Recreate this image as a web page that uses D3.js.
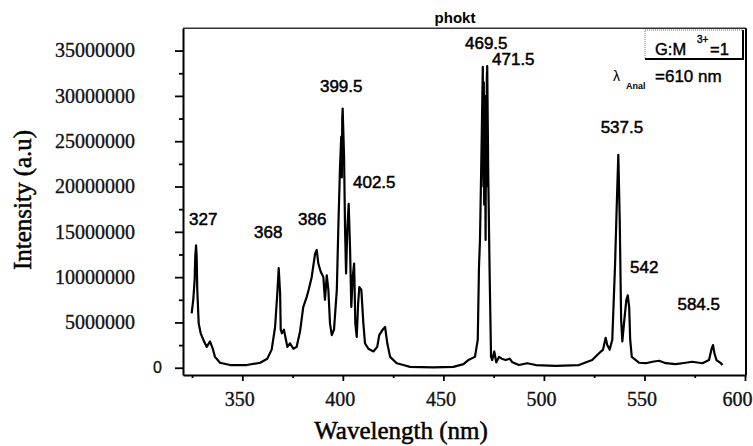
<!DOCTYPE html>
<html>
<head>
<meta charset="utf-8">
<script src="https://cdn.jsdelivr.net/npm/d3@7"></script>
<style>
  html, body { margin: 0; padding: 0; background: #fff; }
  svg { display: block; }
</style>
</head>
<body>
<div id="root"></div>
<script>
const svgWidth = 753;
const svgHeight = 446;

// spectrum (nm, intensity in millions a.u.)
const wavelength = [
  324.8, 325.6, 326.3, 326.6, 327.0, 327.3, 327.6, 328.3, 329.3, 330.6,
  332.3, 333.9, 335.3, 336.4, 338.9, 343.9, 352.2, 358.9, 362.4, 364.6,
  366.3, 367.4, 368.1, 368.8, 369.1, 369.7, 370.7, 371.7, 372.4, 373.7,
  375.4, 377.0, 378.7, 380.3, 382.0, 383.0, 384.5, 386.2, 387.0, 387.8,
  389.0, 390.3, 391.1, 392.0, 392.8, 393.6, 394.5, 395.6, 397.0, 397.8,
  398.6, 399.2, 399.5, 399.7, 399.9, 400.6, 401.1, 401.6, 402.2, 402.9, 403.6, 404.2,
  404.9, 405.6, 406.2, 406.9, 407.6, 408.2, 409.2, 410.2, 411.0, 412.7,
  415.2, 417.1, 418.1, 419.8, 421.0, 422.1, 423.5, 426.8, 430.1, 433.4,
  445.0, 455.0, 460.0, 462.4, 465.7, 467.1, 467.7, 468.2, 469.1, 469.6, 469.9, 470.1,
  470.3, 470.5, 470.7, 471.0, 471.2, 471.4, 471.6, 471.8, 472.3, 473.0, 473.7, 474.3, 475.3, 476.3,
  477.7, 479.0, 481.0, 483.0, 484.3, 487.6, 491.7, 495.9, 505.8, 517.4,
  524.0, 527.4, 529.4, 530.7, 531.5, 532.7, 534.0, 535.4, 536.2, 537.0,
  537.7, 538.4, 539.0, 540.0, 541.0, 541.7, 542.4, 542.9, 543.7, 545.7,
  547.4, 550.7, 554.0, 557.3, 560.6, 565.6, 570.5, 573.8, 578.8, 582.1,
  583.4, 584.1, 584.8, 585.8, 588.0, 588.8
];
const intensity = [
  6.0, 7.5, 9.7, 12.3, 13.5, 12.3, 8.6, 4.9, 3.8, 3.1,
  2.3, 2.9, 2.1, 1.2, 0.55, 0.3, 0.3, 0.55, 1.0, 2.0,
  4.5, 8.2, 11.0, 8.2, 4.2, 3.8, 4.2, 3.1, 2.3, 2.7,
  2.1, 2.3, 4.0, 6.7, 7.8, 8.6, 10.0, 12.6, 13.0, 11.5,
  10.6, 10.0, 7.5, 10.2, 8.6, 4.9, 3.6, 4.2, 8.6, 15.9,
  22.2, 25.5, 21.0, 27.5, 28.6, 23.3, 15.2, 10.4, 15.2, 18.1, 13.0, 6.7,
  10.0, 11.5, 4.9, 3.4, 7.1, 8.9, 8.6, 4.9, 2.7, 2.1,
  1.8, 2.3, 3.6, 4.2, 4.5, 2.7, 1.2, 0.5, 0.3, 0.1,
  0.05, 0.1, 0.4, 0.85, 1.2, 3.1, 11.1, 14.1, 25.9, 33.2, 20.0, 31.5,
  18.0, 30.0, 25.2, 14.1, 29.0, 20.0, 32.0, 33.3, 21.5, 10.4, 1.2, 0.85, 1.8, 0.6,
  1.2, 1.0, 0.85, 1.0, 0.6, 0.3, 0.5, 0.3, 0.2, 0.3,
  0.85, 1.6, 2.0, 3.3, 2.5, 2.0, 3.1, 11.5, 17.8, 23.5,
  16.3, 5.3, 2.9, 5.3, 7.5, 8.0, 6.7, 3.1, 1.2, 0.85,
  0.55, 0.5, 0.66, 0.77, 0.5, 0.4, 0.55, 0.66, 0.5, 0.85,
  2.1, 2.5, 1.6, 0.85, 0.5, 0.3
];

// peak annotations, anchored in data units (nm, millions)
const peakLabels = ["327", "368", "386", "399.5", "402.5", "469.5", "471.5", "537.5", "542", "584.5"];
const peakLabelX = [323.5, 355.8, 377.7, 388.6, 405.05, 460.75, 474.2, 528.2, 542.8, 566.4];
const peakLabelY = [15.75, 14.3, 15.75, 30.4, 19.8, 35.2, 33.4, 25.9, 10.45, 6.4];

const xTicks = [350, 400, 450, 500, 550, 600];
const xMinorTicks = [325, 375, 425, 475, 525, 575];
const yTicks = [0, 5e6, 10e6, 15e6, 20e6, 25e6, 30e6, 35e6];
const yMinorTicks = [2.5e6, 7.5e6, 12.5e6, 17.5e6, 22.5e6, 27.5e6, 32.5e6];

const serif = "'Liberation Serif', 'Times New Roman', serif";
const sans = "'Liberation Sans', Arial, sans-serif";

const plotLeft = 183, plotRight = 746, plotTop = 28.3, plotBottom = 375;

const xScale = d3.scaleLinear()
      .domain([320.5, 600.5])
      .range([plotLeft, plotRight]);

const yScale = d3.scaleLinear()
      .domain([-0.8e6, 37.46e6])
      .range([plotBottom, plotTop]);

const mainSvg = d3.select("#root")
      .append("svg")
      .attr("width", svgWidth)
      .attr("height", svgHeight);

//Frame top and right
mainSvg.append("line")
  .attr("x1", plotLeft).attr("x2", plotRight)
  .attr("y1", plotTop).attr("y2", plotTop)
  .attr("stroke", "#333").attr("stroke-width", 1.5);
mainSvg.append("line")
  .attr("x1", plotRight).attr("x2", plotRight)
  .attr("y1", plotTop).attr("y2", plotBottom)
  .attr("stroke", "#000").attr("stroke-width", 2);

//Bottom axis
const xAxis = mainSvg.append("g")
  .attr("transform", `translate(0,${plotBottom})`)
  .call(d3.axisBottom(xScale).tickValues(xTicks).tickSize(6).tickPadding(11).tickSizeOuter(0));
mainSvg.append("g")
  .attr("transform", `translate(0,${plotBottom})`)
  .call(d3.axisBottom(xScale).tickValues(xMinorTicks).tickSize(3).tickFormat("").tickSizeOuter(0))
  .select(".domain").remove();

//Left axis
const yAxis = mainSvg.append("g")
  .attr("transform", `translate(${plotLeft},0)`)
  .call(d3.axisLeft(yScale).tickValues(yTicks).tickSize(8).tickPadding(40).tickSizeOuter(0)
        .tickFormat(d => d3.format("d")(d)));
mainSvg.append("g")
  .attr("transform", `translate(${plotLeft},0)`)
  .call(d3.axisLeft(yScale).tickValues(yMinorTicks).tickSize(4).tickFormat("").tickSizeOuter(0))
  .select(".domain").remove();

mainSvg.selectAll(".domain").attr("stroke", "#000").attr("stroke-width", 2);
mainSvg.selectAll(".tick line").attr("stroke", "#000").attr("stroke-width", 1.8);
mainSvg.selectAll(".tick text")
  .attr("font-family", serif)
  .attr("font-size", "20px")
  .attr("fill", "#111")
  .attr("stroke", "#111")
  .attr("stroke-width", 0.35);

// x labels sit slightly left of their ticks; keep 600 inside the page
xAxis.selectAll(".tick text")
  .attr("x", -3)
  .filter(d => d === 600)
  .attr("text-anchor", "end")
  .attr("x", 7);

// the zero label is set in a sans face, close to the axis
yAxis.selectAll(".tick text")
  .filter(d => d === 0)
  .attr("font-family", sans)
  .attr("font-size", "16px")
  .attr("x", -21);

//Spectrum
const line = d3.line()
  .x((d, i) => xScale(wavelength[i]))
  .y((d) => yScale(d * 1e6));

mainSvg.append("path")
  .datum(intensity)
  .attr("d", line)
  .attr("fill", "none")
  .attr("stroke", "#000")
  .attr("stroke-width", 2.2)
  .attr("stroke-linejoin", "round");

//Peak labels
mainSvg.selectAll("text.peak")
  .data(peakLabels)
  .join("text")
  .attr("class", "peak")
  .attr("x", (d, i) => xScale(peakLabelX[i]))
  .attr("y", (d, i) => yScale(peakLabelY[i] * 1e6))
  .attr("font-family", sans)
  .attr("font-size", "17px")
  .attr("fill", "#000")
  .attr("stroke", "#000")
  .attr("stroke-width", 0.5)
  .text(d => d);

//Title
mainSvg.append("text")
  .attr("x", 455).attr("y", 23)
  .attr("text-anchor", "middle")
  .attr("font-family", sans)
  .attr("font-size", "15px")
  .attr("font-weight", "bold")
  .text("phokt");

//Axis titles
mainSvg.append("text")
  .attr("x", 401).attr("y", 439)
  .attr("text-anchor", "middle")
  .attr("font-family", serif)
  .attr("font-size", "25px")
  .attr("stroke", "#000")
  .attr("stroke-width", 0.5)
  .text("Wavelength (nm)");

mainSvg.append("text")
  .attr("transform", "translate(31,200) rotate(-90)")
  .attr("text-anchor", "middle")
  .attr("font-family", serif)
  .attr("font-size", "25px")
  .attr("stroke", "#000")
  .attr("stroke-width", 0.5)
  .text("Intensity (a.u)");

//Legend box
mainSvg.append("rect")
  .attr("x", 645).attr("y", 30)
  .attr("width", 98).attr("height", 29)
  .attr("fill", "#fff")
  .attr("stroke", "#777").attr("stroke-width", 1)
  .attr("stroke-dasharray", "1,1");
mainSvg.append("path")
  .attr("d", "M743,30V59H645")
  .attr("fill", "none")
  .attr("stroke", "#000").attr("stroke-width", 2);

const legend = mainSvg.append("text")
  .attr("x", 655).attr("y", 55)
  .attr("font-family", sans)
  .attr("font-size", "16.5px")
  .attr("stroke", "#000")
  .attr("stroke-width", 0.4);
legend.append("tspan").text("G:M");
legend.append("tspan").attr("x", 697).attr("y", 43).attr("font-size", "10px").text("3+");
legend.append("tspan").attr("x", 710).attr("y", 55).text("=1");

const anal = mainSvg.append("text")
  .attr("x", 613).attr("y", 81)
  .attr("font-family", sans)
  .attr("font-size", "14px");
anal.append("tspan").text("λ");
anal.append("tspan").attr("x", 626).attr("y", 89).attr("font-size", "9px").attr("font-weight", "bold").text("Anal");
anal.append("tspan").attr("x", 655).attr("y", 82).attr("font-size", "17px")
  .attr("stroke", "#000").attr("stroke-width", 0.4).text("=610 nm");
</script>
</body>
</html>
